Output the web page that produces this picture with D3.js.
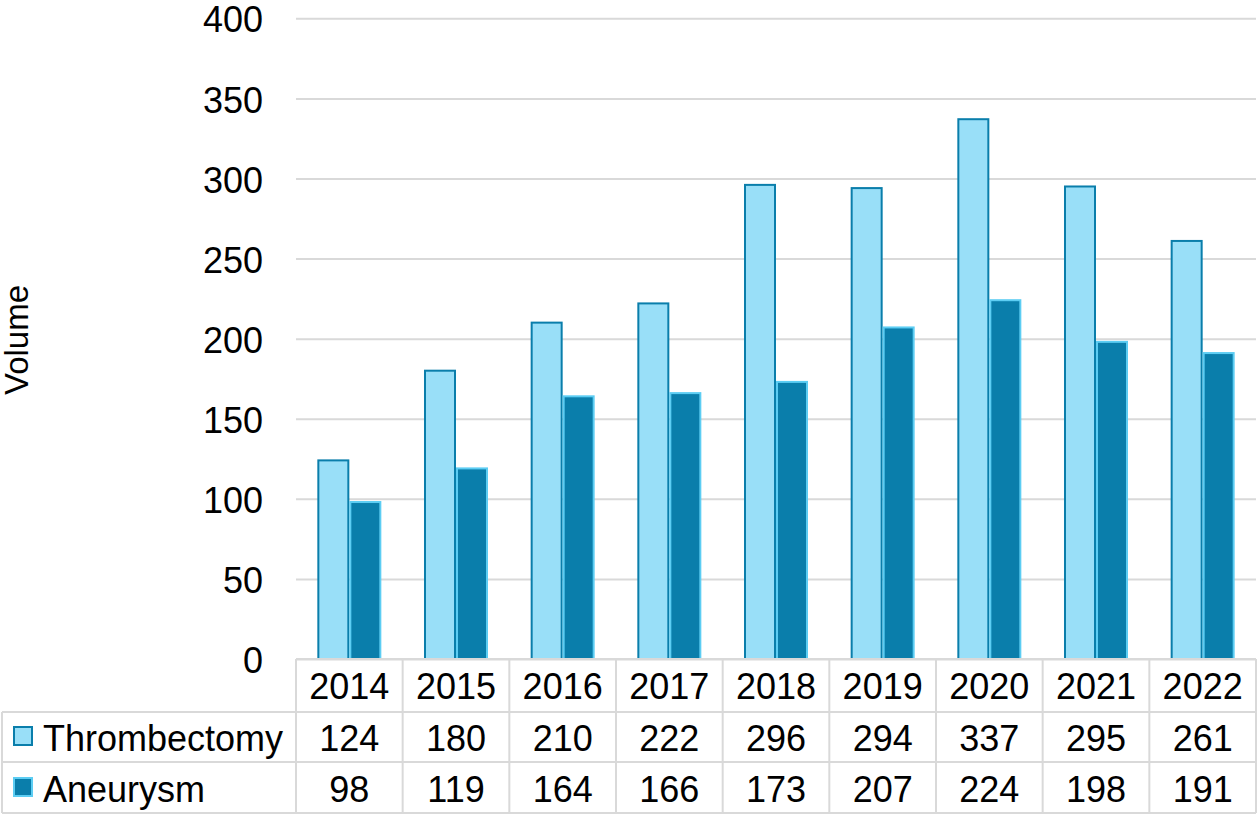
<!doctype html>
<html lang="en">
<head>
  <meta charset="utf-8">
  <title>Volume</title>
  <script src="https://cdnjs.cloudflare.com/ajax/libs/d3/7.8.5/d3.min.js"></script>
  <style>
    body { margin: 0; background: #fff; }
    svg { display: block; font-family: "Liberation Sans", Arial, sans-serif; }
    .grid line { stroke: #d9d9d9; stroke-width: 2; }
    .grid text { font-size: 36px; fill: #000; }
    .tbl line { stroke: #d9d9d9; stroke-width: 2; }
    .cell { font-size: 36px; fill: #000; text-anchor: middle; }
  </style>
</head>
<body>
  <svg width="1257" height="814"></svg>
  <script>
    const years = ["2014","2015","2016","2017","2018","2019","2020","2021","2022"];
    const series = ["Thrombectomy", "Aneurysm"];
    const thrombectomy = [124, 180, 210, 222, 296, 294, 337, 295, 261];
    const aneurysm = [98, 119, 164, 166, 173, 207, 224, 198, 191];
    const yTicks = [0, 50, 100, 150, 200, 250, 300, 350, 400];

    const fills = { "Thrombectomy": "#99dff8", "Aneurysm": "#0a7eab" };
    const strokes = { "Thrombectomy": "#0a7eab", "Aneurysm": "#5ccdf3" };

    const plot = { left: 296, right: 1256, top: 18.3, bottom: 659 };
    const rows = [659, 712, 762, 813];

    const svg = d3.select("svg");

    const x = d3.scaleBand().domain(years).range([plot.left, plot.right]);
    const bw = x.bandwidth();
    const x1 = d3.scaleBand().domain(series).range([bw * 0.2, bw * 0.8]);
    const y = d3.scaleLinear().domain([0, 400]).range([plot.bottom, plot.top]);

    // gridlines + tick labels
    const yAxis = d3.axisLeft(y)
      .tickValues(yTicks)
      .tickSizeInner(-(plot.right - plot.left))
      .tickSizeOuter(0)
      .tickPadding(33);
    const g = svg.append("g")
      .attr("class", "grid")
      .attr("transform", `translate(${plot.left},0)`)
      .call(yAxis);
    g.select(".domain").remove();
    g.selectAll("text").attr("dy", "0.38em");

    // Y title
    svg.append("text")
      .attr("transform", `translate(28,340) rotate(-90)`)
      .attr("text-anchor", "middle")
      .style("font-size", "33px")
      .text("Volume");

    // bars
    const data = years.map((yr, i) => ({
      year: yr,
      vals: [
        { key: "Thrombectomy", v: thrombectomy[i] },
        { key: "Aneurysm", v: aneurysm[i] }
      ]
    }));

    svg.append("g")
      .selectAll("g")
      .data(data)
      .join("g")
      .attr("transform", d => `translate(${x(d.year)},0)`)
      .selectAll("rect")
      .data(d => d.vals)
      .join("rect")
      .attr("x", d => x1(d.key) + 1)
      .attr("width", x1.bandwidth() - 2)
      .attr("y", d => y(d.v))
      .attr("height", d => y(0) - y(d.v))
      .attr("fill", d => fills[d.key])
      .attr("stroke", d => strokes[d.key])
      .attr("stroke-width", 2);

    // data table
    const tbl = svg.append("g").attr("class", "tbl");
    tbl.append("line").attr("x1", plot.left).attr("x2", plot.right).attr("y1", rows[0]).attr("y2", rows[0]);
    rows.slice(1).forEach(r => {
      tbl.append("line").attr("x1", 2).attr("x2", plot.right).attr("y1", r).attr("y2", r);
    });
    tbl.append("line").attr("x1", 2).attr("x2", 2).attr("y1", rows[1]).attr("y2", rows[3]);
    tbl.selectAll(".v")
      .data(years.concat(["end"]))
      .join("line")
      .attr("x1", d => d === "end" ? plot.right : x(d))
      .attr("x2", d => d === "end" ? plot.right : x(d))
      .attr("y1", rows[0])
      .attr("y2", rows[3]);

    // header years
    svg.append("g").selectAll("text")
      .data(years)
      .join("text")
      .attr("class", "cell")
      .attr("x", d => x(d) + bw / 2)
      .attr("y", 699)
      .text(d => d);

    const rowData = [
      { key: "Thrombectomy", vals: thrombectomy, base: 751, sq: 727 },
      { key: "Aneurysm", vals: aneurysm, base: 802, sq: 778 }
    ];

    rowData.forEach(r => {
      svg.append("rect")
        .attr("x", 14).attr("y", r.sq)
        .attr("width", 18).attr("height", 18)
        .attr("fill", fills[r.key])
        .attr("stroke", strokes[r.key])
        .attr("stroke-width", 2);
      svg.append("text")
        .attr("x", 43).attr("y", r.base)
        .style("font-size", "36px")
        .text(r.key);
      svg.append("g").selectAll("text")
        .data(r.vals)
        .join("text")
        .attr("class", "cell")
        .attr("x", (d, i) => x(years[i]) + bw / 2)
        .attr("y", r.base)
        .text(d => d);
    });
  </script>
</body>
</html>
